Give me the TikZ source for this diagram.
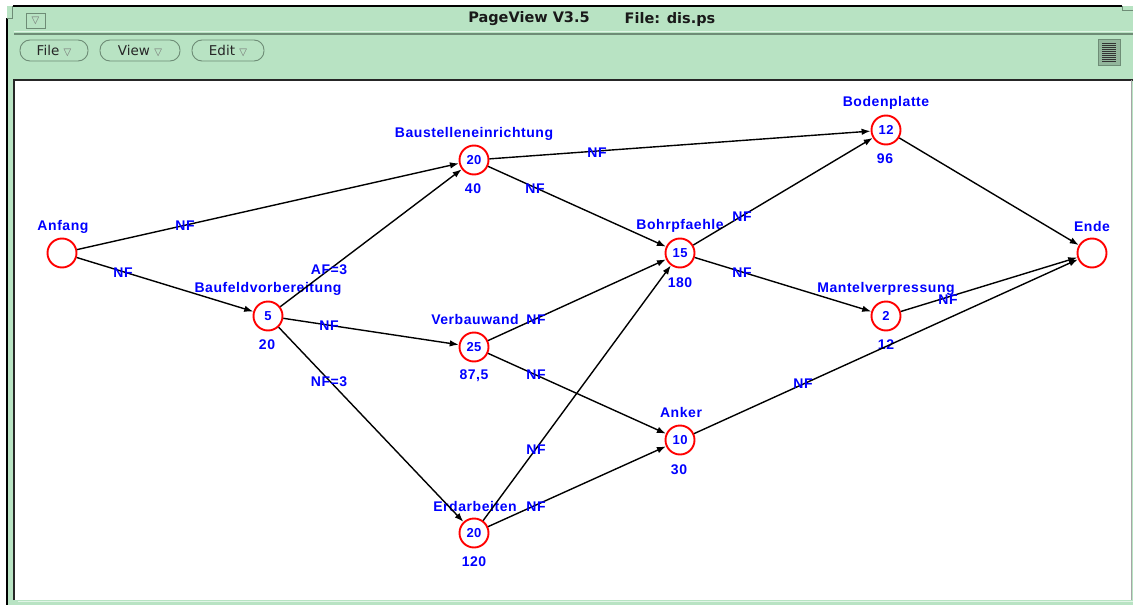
\documentclass[tikz,border=0pt]{standalone}
\usepackage{fontspec}
\setmainfont{Liberation Sans}
\newfontfamily\dfont[LetterSpace=4]{Liberation Sans}
\newfontfamily\tfont{DejaVu Sans}
\usetikzlibrary{arrows.meta,calc}
\definecolor{wingreen}{RGB}{184,227,195}
\definecolor{winedge}{RGB}{110,140,118}
\definecolor{winlight}{RGB}{225,245,230}
\newcommand{\mtri}{{\tfont\color{black!55}\fontsize{10}{10}\selectfont ▽}}
\begin{document}
\begin{tikzpicture}[x=1pt,y=-1pt,
  ev/.style={circle, draw=red, line width=1.9pt, minimum size=29pt, inner sep=0pt,
    font=\dfont\bfseries\fontsize{13}{13}\selectfont, text=blue},
  lbl/.style={font=\dfont\bfseries\fontsize{14}{14}\selectfont, text=blue,
    inner sep=0pt, text height=10pt, text depth=0pt},
  arr/.style={-{Latex[length=9pt,width=6.5pt]}, line width=1.4pt, black},
  pill/.style={draw=winedge, fill=wingreen, line width=0.9pt, rounded corners=10pt,
    minimum height=21pt, inner sep=0pt, text=black!85,
    font=\tfont\fontsize{13.5}{13.5}\selectfont},
  ttl/.style={font=\tfont\bfseries\fontsize{14.5}{14.5}\selectfont, text=black!90, inner sep=0pt}
]
\useasboundingbox (0,0) rectangle (1133,605);
% ---------- window frame ----------
\fill[wingreen] (7,6) rectangle (1133,605);
\draw[black, line width=2pt] (7,605) -- (7,18);
\draw[winedge, line width=0.8pt] (7,18) -- (12,18) -- (12,6);
\draw[black, line width=2pt] (13,6) -- (1122,6);
\draw[winedge, line width=0.8pt] (1122,6) -- (1122,10) -- (1133,10);
\draw[winlight, line width=0.8pt] (14,31) -- (1133,31);
\draw[winedge, line width=2pt] (14,33.5) -- (1133,33.5);
% title
\node[ttl] (t1) at (529,19) {PageView V3.5};
\node[ttl] (t2) at (670,19) {File: dis.ps};
% small window button
\node[draw=winedge, fill=wingreen, line width=0.8pt, minimum width=19pt, minimum height=15pt,
  inner sep=0pt] (wbtn) at (35.5,20.5) {\mtri};
% menu buttons
\node[pill, minimum width=68pt] (mfile) at (54,50.5) {File \mtri};
\node[pill, minimum width=80pt] (mview) at (140,50.5) {View \mtri};
\node[pill, minimum width=72pt] (medit) at (228,50.5) {Edit \mtri};
% page icon
\draw[winedge, fill=black!20!wingreen, line width=0.8pt] (1098,39) rectangle (1120,65);
\foreach \yy in {43,45,...,61} \draw[black!80, line width=0.7pt] (1102,\yy) -- (1116,\yy);
% canvas
\fill[white] (14,80) rectangle (1131,600);
\draw[black!85, line width=1.5pt] (14,600) -- (14,80) -- (1133,80);
\draw[black!35, line width=0.8pt] (1131,80) -- (1131,600);
\draw[winlight, line width=1pt] (18,601.5) -- (1133,601.5);
% ---------- events ----------
\node[ev] (A) at (62,253) {};
\node[ev] (B) at (268,316) {5};
\node[ev] (C) at (474,160) {20};
\node[ev] (D) at (474,347) {25};
\node[ev] (E) at (474,533) {20};
\node[ev] (F) at (680,253) {15};
\node[ev] (G) at (680,440) {10};
\node[ev] (H) at (886,130) {12};
\node[ev] (I) at (886,316) {2};
\node[ev] (J) at (1092,253) {};
% names
\node[lbl] (nA) at (63,225) {Anfang};
\node[lbl] (nB) at (268,287) {Baufeldvorbereitung};
\node[lbl] (nC) at (474,132) {Baustelleneinrichtung};
\node[lbl] (nD) at (475,319) {Verbauwand};
\node[lbl] (nE) at (475,506) {Erdarbeiten};
\node[lbl] (nF) at (680,224) {Bohrpfaehle};
\node[lbl] (nG) at (681,412) {Anker};
\node[lbl] (nH) at (886,101) {Bodenplatte};
\node[lbl] (nI) at (886,287) {Mantelverpressung};
\node[lbl] (nJ) at (1092,226) {Ende};
% numbers below
\node[lbl] (vB) at (267,344) {20};
\node[lbl] (vC) at (473,188) {40};
\node[lbl] (vD) at (474,374) {87,5};
\node[lbl] (vE) at (474,561) {120};
\node[lbl] (vF) at (680,282) {180};
\node[lbl] (vG) at (679,469) {30};
\node[lbl] (vH) at (885,158) {96};
\node[lbl] (vI) at (886,344) {12};
% ---------- connectors ----------
\draw[arr] (A) -- (C);
\draw[arr] (A) -- (B);
\draw[arr] (B) -- (C);
\draw[arr] (B) -- (D);
\draw[arr] (B) -- (E);
\draw[arr] (C) -- (H);
\draw[arr] (C) -- (F);
\draw[arr] (D) -- (F);
\draw[arr] (D) -- (G);
\draw[arr] (E) -- (F);
\draw[arr] (E) -- (G);
\draw[arr] (F) -- (H);
\draw[arr] (F) -- (I);
\draw[arr] (G) -- (J);
\draw[arr] (I) -- (J);
\draw[arr] (H) -- (J);
% connector labels
\node[lbl] (eAC) at (185,225) {NF};
\node[lbl] (eAB) at (123,272) {NF};
\node[lbl] (eBC) at (329,269) {AF=3};
\node[lbl] (eBD) at (329,325) {NF};
\node[lbl] (eBE) at (329,381) {NF=3};
\node[lbl] (eCH) at (597,152) {NF};
\node[lbl] (eCF) at (535,188) {NF};
\node[lbl] (eDF) at (536,319) {NF};
\node[lbl] (eDG) at (536,374) {NF};
\node[lbl] (eEF) at (536,449) {NF};
\node[lbl] (eEG) at (536,506) {NF};
\node[lbl] (eFH) at (742,216) {NF};
\node[lbl] (eFI) at (742,272) {NF};
\node[lbl] (eGJ) at (803,383) {NF};
\node[lbl] (eIJ) at (948,299) {NF};
\end{tikzpicture}
\end{document}
